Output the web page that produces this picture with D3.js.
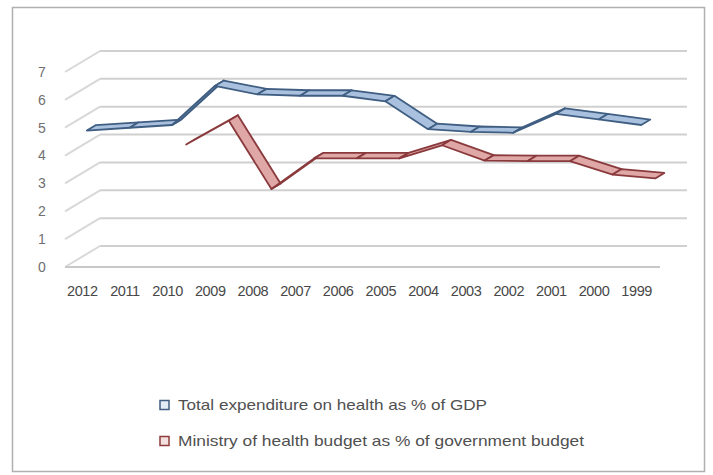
<!DOCTYPE html>
<html>
<head>
<meta charset="utf-8">
<script src="https://cdnjs.cloudflare.com/ajax/libs/d3/7.8.5/d3.min.js"></script>
<style>
  html, body { margin: 0; padding: 0; background: #ffffff; }
  svg { display: block; }
  text { font-family: "Liberation Sans", Arial, sans-serif; fill: #555555; }
</style>
</head>
<body>
<svg id="chart" width="713" height="475"></svg>
<script>
// Years along the category axis (most recent first)
const years = ["2012","2011","2010","2009","2008","2007","2006","2005","2004","2003","2002","2001","2000","1999"];

// Total expenditure on health as % of GDP
const totalExpenditure = [4.8, 4.9, 5.0, 6.4, 6.1, 6.05, 6.05, 5.85, 4.85, 4.75, 4.72, 5.4, 5.2, 5.0];

// Ministry of health budget as % of government budget (no data for 2012-2011)
const ministryBudget = [null, null, 4.0, 4.85, 2.4, 3.5, 3.5, 3.5, 3.97, 3.42, 3.4, 3.4, 2.92, 2.78];

const seriesNames = [
  "Total expenditure on health as % of GDP",
  "Ministry of health budget as % of government budget"
];

const yTicks = [0, 1, 2, 3, 4, 5, 6, 7];

const svg = d3.select("#chart");

// Outer chart frame
svg.append("rect")
  .attr("x", 12.5).attr("y", 7.5)
  .attr("width", 692).attr("height", 464)
  .attr("fill", "#ffffff")
  .attr("stroke", "#b0b0b0")
  .attr("stroke-width", 1.5);

// Scales on the front plane of the 3-D box
const x = d3.scaleBand().domain(years).range([61, 658]);
const y = d3.scaleLinear().domain([0, 7]).range([267, 72]);

// Oblique depth projection: full depth shifts right and up
const depthDX = 35, depthDY = -21;
const proj = (px, py, f) => [px + depthDX * f, py + depthDY * f];

// Gridlines: short diagonal on the side wall, then across the back wall
const grid = svg.append("g");
yTicks.forEach(t => {
  const [bx, by] = proj(65, y(t), 1);
  grid.append("line")
    .attr("x1", 65).attr("y1", y(t)).attr("x2", bx).attr("y2", by)
    .attr("stroke", "#d8d8d8").attr("stroke-width", 2);
  grid.append("line")
    .attr("x1", bx).attr("y1", by).attr("x2", 687).attr("y2", by)
    .attr("stroke", "#d0d0d0").attr("stroke-width", 2);
});
// Front edge of the floor
grid.append("line")
  .attr("x1", 65).attr("y1", y(0)).attr("x2", 660).attr("y2", y(0))
  .attr("stroke", "#c8c8c8").attr("stroke-width", 2);

// Value axis labels
svg.append("g").selectAll("text")
  .data(yTicks).join("text")
  .attr("x", 42).attr("y", d => y(d))
  .attr("dy", "0.35em")
  .attr("text-anchor", "middle")
  .style("font-size", "14px")
  .style("fill", "#707070")
  .text(d => d);

// Category axis labels
svg.append("g").selectAll("text")
  .data(years).join("text")
  .attr("x", d => x(d) + x.bandwidth() / 2)
  .attr("y", 291)
  .attr("dy", "0.35em")
  .attr("text-anchor", "middle")
  .style("font-size", "14.5px")
  .style("fill", "#484848")
  .style("letter-spacing", "-0.4px")
  .text(d => d);

// 3-D ribbons: each segment is a face spanning a thin slice of depth
function ribbon(values, depth, halfDepth, fill, edge) {
  const g = svg.append("g");
  const pts = years.map((yr, i) => values[i] == null ? null :
    [x(yr) + x.bandwidth() / 2, y(values[i])]);
  for (let i = 0; i < pts.length - 1; i++) {
    const a = pts[i], b = pts[i + 1];
    if (!a || !b) continue;
    const a1 = proj(a[0], a[1], depth - halfDepth);
    const b1 = proj(b[0], b[1], depth - halfDepth);
    const b2 = proj(b[0], b[1], depth + halfDepth);
    const a2 = proj(a[0], a[1], depth + halfDepth);
    g.append("path")
      .attr("d", d3.line()([a1, b1, b2, a2]) + "Z")
      .attr("fill", fill)
      .attr("stroke", edge)
      .attr("stroke-width", 1.8)
      .attr("stroke-linejoin", "round");
  }
}

ribbon(ministryBudget, 0.66, 0.13, "#dfa7a5", "#8a3a3c");
ribbon(totalExpenditure, 0.26, 0.13, "#a9c1de", "#3f5e82");

// Legend
const legend = svg.append("g");
const legendItems = [
  { name: seriesNames[0], y: 405, edge: "#3f5e82", fill: "#e3ebf5", len: 309 },
  { name: seriesNames[1], y: 441, edge: "#8e3b3b", fill: "#f3e1e0", len: 406 }
];
legendItems.forEach(d => {
  legend.append("rect")
    .attr("x", 160).attr("y", d.y - 4.5)
    .attr("width", 9).attr("height", 9)
    .attr("fill", d.fill).attr("stroke", d.edge).attr("stroke-width", 1.5);
  legend.append("text")
    .attr("x", 178).attr("y", d.y).attr("dy", "0.35em")
    .attr("textLength", d.len).attr("lengthAdjust", "spacingAndGlyphs")
    .style("font-size", "15px")
    .style("fill", "#505050")
    .text(d.name);
});
</script>
</body>
</html>
